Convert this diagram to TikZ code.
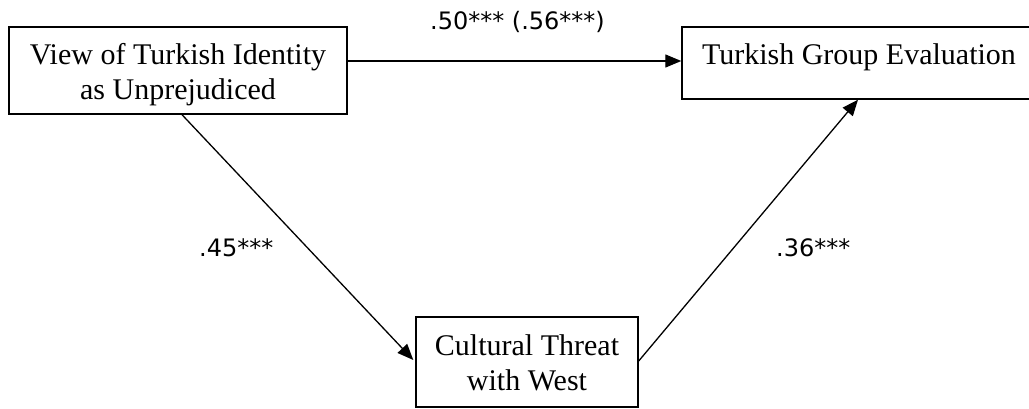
\documentclass[tikz,border=0pt]{standalone}
\usepackage{fontspec}
\setmainfont{Liberation Serif}
\newfontfamily\coeffont{DejaVu Sans}
\usetikzlibrary{arrows.meta}
\begin{document}
\begin{tikzpicture}[x=1pt,y=-1pt,
  box/.style={draw, line width=1.4pt, inner sep=0pt},
  boxtext/.style={font=\fontsize{30}{35}\selectfont, anchor=base, inner sep=0pt},
  coef/.style={font=\coeffont\fontsize{24}{28}\selectfont, anchor=base west, inner sep=0pt},
  effect/.style={line width=1.3pt, -{Triangle[length=16pt,width=13pt]}}]
\useasboundingbox (0,0) rectangle (1029,409);

% variable boxes
\node[box, minimum width=338pt, minimum height=87pt] (ident) at (178,70.5) {};
\node[box, minimum width=348pt, minimum height=72pt] (eval) at (856,63) {};
\node[box, minimum width=222pt, minimum height=90pt] (threat) at (527,362) {};

% box labels
\node[boxtext] (identA) at (178,65) {View of Turkish Identity};
\node[boxtext] (identB) at (178,100) {as Unprejudiced};
\node[boxtext] (evalA) at (859,65) {Turkish Group Evaluation};
\node[boxtext] (threatA) at (527,355) {Cultural Threat};
\node[boxtext] (threatB) at (527,390) {with West};

% paths
\draw[effect] ([yshift=9.5pt]ident.east) -- ([yshift=2pt]eval.west);
\draw[effect] ([xshift=4pt]ident.south) -- ([xshift=-2pt,yshift=2pt]threat.west);
\draw[effect] ([yshift=1pt]threat.east) -- ([xshift=2pt]eval.south);

% coefficients
\node[coef] (cDirect) at (430,30) {.50*** (.56***)};
\node[coef] (cA) at (199,256) {.45***};
\node[coef] (cB) at (776,256) {.36***};
\end{tikzpicture}
\end{document}
